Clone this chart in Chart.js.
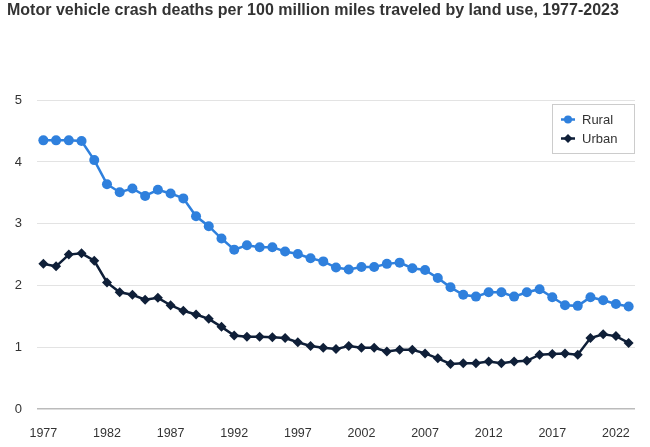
<!DOCTYPE html>
<html>
<head>
<meta charset="utf-8">
<script src="https://cdn.jsdelivr.net/npm/chart.js@4"></script>
<style>
  html, body { margin: 0; padding: 0; background: #fff; }
  .wrap { width: 650px; height: 447px; }
</style>
</head>
<body>
<div class="wrap"><canvas id="myChart" width="650" height="447"></canvas></div>
<script>
// years on the x axis
const years = [];
for (let y = 1977; y <= 2023; y++) years.push(String(y));

// deaths per 100 million miles traveled
const rural = [4.35, 4.35, 4.35, 4.34, 4.03, 3.64, 3.51, 3.57, 3.45, 3.55,
  3.49, 3.41, 3.12, 2.96, 2.76, 2.58, 2.65, 2.62, 2.62, 2.55,
  2.51, 2.44, 2.39, 2.29, 2.26, 2.30, 2.30, 2.35, 2.37, 2.28,
  2.25, 2.12, 1.97, 1.85, 1.82, 1.89, 1.89, 1.82, 1.89, 1.94,
  1.81, 1.68, 1.67, 1.81, 1.76, 1.70, 1.66];
const urban = [2.35, 2.31, 2.50, 2.52, 2.40, 2.05, 1.89, 1.85, 1.77, 1.80,
  1.68, 1.59, 1.53, 1.46, 1.33, 1.19, 1.17, 1.17, 1.16, 1.15,
  1.08, 1.02, 0.99, 0.97, 1.02, 0.99, 0.99, 0.93, 0.96, 0.96,
  0.90, 0.82, 0.73, 0.74, 0.74, 0.77, 0.74, 0.77, 0.78, 0.88,
  0.89, 0.90, 0.88, 1.15, 1.21, 1.18, 1.07];

const yTicks = [0, 1, 2, 3, 4, 5];

const FONT = "'Liberation Sans', Arial, sans-serif";

// legend box drawn inside the plot, like the original
const boxLegend = {
  id: 'boxLegend',
  afterDraw(chart) {
    const ctx = chart.ctx;
    const x = 552.5, y = 104.5, w = 82, h = 49;
    ctx.save();
    ctx.fillStyle = '#fff';
    ctx.fillRect(x, y, w, h);
    ctx.strokeStyle = '#cccccc';
    ctx.lineWidth = 1;
    ctx.strokeRect(x, y, w, h);
    chart.data.datasets.forEach((ds, i) => {
      const cy = 119.5 + i * 19;
      ctx.strokeStyle = ds.borderColor;
      ctx.lineWidth = 2.5;
      ctx.beginPath();
      ctx.moveTo(561, cy);
      ctx.lineTo(575, cy);
      ctx.stroke();
      ctx.fillStyle = ds.borderColor;
      ctx.beginPath();
      if (ds.pointStyle === 'circle') {
        ctx.arc(568, cy, 4, 0, Math.PI * 2);
      } else {
        ctx.moveTo(568, cy - 4.5);
        ctx.lineTo(572.5, cy);
        ctx.lineTo(568, cy + 4.5);
        ctx.lineTo(563.5, cy);
        ctx.closePath();
      }
      ctx.fill();
      ctx.fillStyle = '#333';
      ctx.font = '13px ' + FONT;
      ctx.textBaseline = 'middle';
      ctx.fillText(ds.label, 582, cy + 0.5);
    });
    ctx.restore();
  }
};

new Chart(document.getElementById('myChart').getContext('2d'), {
  type: 'line',
  data: {
    labels: years,
    datasets: [
      {
        label: 'Rural',
        data: rural,
        borderColor: '#2f80dd',
        backgroundColor: '#2f80dd',
        borderWidth: 2.5,
        pointStyle: 'circle',
        pointRadius: 5,
        pointBorderWidth: 0,
        tension: 0
      },
      {
        label: 'Urban',
        data: urban,
        borderColor: '#0f1f38',
        backgroundColor: '#0f1f38',
        borderWidth: 2.5,
        pointStyle: 'rectRot',
        pointRadius: 5,
        pointBorderWidth: 0,
        tension: 0
      }
    ]
  },
  options: {
    responsive: false,
    animation: false,
    layout: { padding: { left: 7, right: 15, top: 0, bottom: 4 } },
    plugins: {
      legend: { display: false },
      tooltip: { enabled: false },
      title: {
        display: true,
        text: 'Motor vehicle crash deaths per 100 million miles traveled by land use, 1977-2023',
        align: 'start',
        color: '#333',
        font: { family: FONT, size: 16, weight: 'bold' },
        padding: { top: 1, bottom: 80 }
      }
    },
    scales: {
      x: {
        offset: true,
        afterFit: (s) => { s.height = 34; },
        grid: { display: false, drawTicks: false },
        border: { display: false },
        ticks: {
          autoSkip: false,
          maxRotation: 0,
          padding: 17,
          color: '#333',
          font: { family: FONT, size: 12.5 },
          callback: (v, i) => (i % 5 === 0 ? years[i] : '')
        }
      },
      y: {
        min: 0,
        max: 5,
        afterBuildTicks: (s) => { s.ticks = yTicks.map(v => ({ value: v })); },
        afterFit: (s) => { s.width = 30; },
        grid: {
          drawTicks: false,
          color: (c) => (c.tick.value === 0 ? '#bbbbbb' : '#e3e3e3'),
          lineWidth: (c) => (c.tick.value === 0 ? 1.5 : 1)
        },
        border: { display: false },
        ticks: {
          padding: 15,
          color: '#333',
          font: { family: FONT, size: 13 }
        }
      }
    }
  },
  plugins: [boxLegend]
});
</script>
</body>
</html>
